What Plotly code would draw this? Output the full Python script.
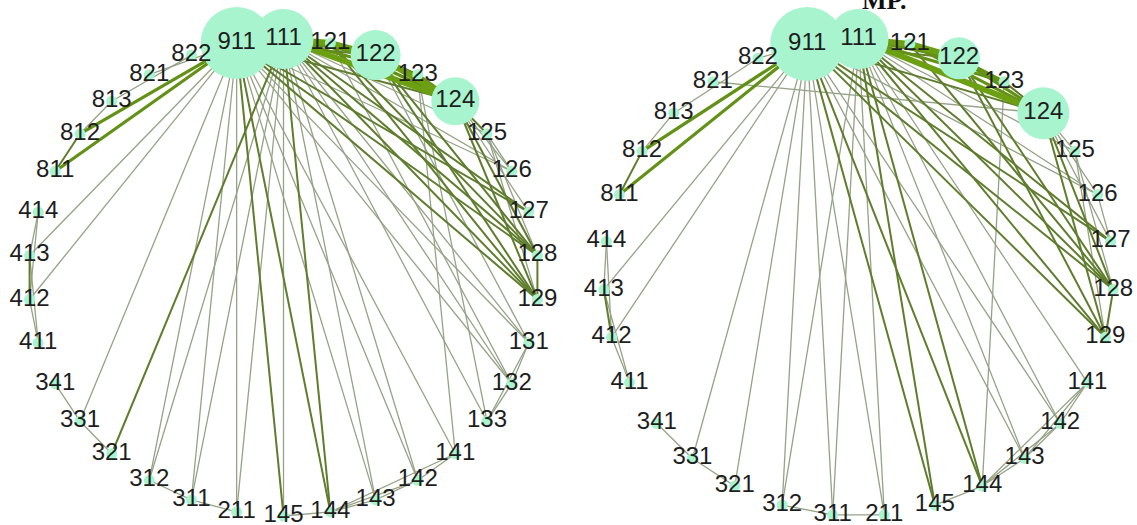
import math
import plotly.graph_objects as go

# ---- node order around each circle (clockwise, starting one step left of top) ----
left_nodes = ["911", "111", "121", "122", "123", "124", "125", "126", "127", "128",
              "129", "131", "132", "133", "141", "142", "143", "144", "145", "211",
              "311", "312", "321", "331", "341", "411", "412", "413", "414", "811",
              "812", "813", "821", "822"]
right_nodes = ["911", "111", "121", "122", "123", "124", "125", "126", "127", "128",
               "129", "141", "142", "143", "144", "145", "211", "311", "312", "321",
               "331", "341", "411", "412", "413", "414", "811", "812", "813", "821",
               "822"]

# ---- node sizes (marker diameter); all other nodes are small ----
left_big = {"911": 72, "111": 60, "122": 50, "124": 48}
right_big = {"911": 74, "111": 60, "122": 42, "124": 52}
small_size = 11

# ---- edges: (source, target, weight class 1..4) ----
left_edges = [
    # hub 911
    ("911", "811", 3), ("911", "812", 3), ("911", "821", 1), ("911", "413", 1),
    ("911", "412", 1), ("911", "331", 1), ("911", "312", 1), ("911", "311", 1),
    ("911", "211", 1), ("911", "145", 2), ("911", "144", 2), ("911", "143", 1),
    ("911", "142", 1), ("911", "141", 1), ("911", "131", 1), ("911", "129", 2),
    ("911", "128", 2), ("911", "127", 2), ("911", "126", 1), ("911", "124", 2),
    ("911", "122", 2), ("911", "111", 1), ("911", "132", 1),
    # hub 111
    ("111", "321", 2), ("111", "312", 1), ("111", "311", 1), ("111", "211", 1),
    ("111", "145", 1), ("111", "144", 2), ("111", "142", 1), ("111", "133", 1),
    ("111", "132", 1), ("111", "131", 1), ("111", "129", 2), ("111", "128", 2),
    ("111", "127", 2), ("111", "126", 1), ("111", "125", 1), ("111", "124", 4),
    ("111", "123", 3), ("111", "122", 3), ("111", "121", 4), ("111", "143", 1),
    # 12x cluster
    ("121", "122", 4), ("121", "124", 3), ("122", "124", 4), ("123", "124", 3),
    ("122", "123", 2), ("121", "128", 2), ("121", "129", 2), ("122", "128", 2),
    ("122", "129", 2), ("124", "125", 2), ("124", "126", 1), ("124", "127", 1),
    ("124", "128", 2), ("124", "129", 2), ("125", "128", 1), ("125", "129", 1),
    ("125", "126", 1), ("128", "129", 2), ("123", "133", 1), ("121", "132", 1),
    ("123", "141", 1), ("122", "131", 1),
    # local links along the ring
    ("811", "812", 2), ("812", "813", 1), ("813", "822", 1),
    ("411", "412", 1), ("411", "413", 1), ("412", "413", 2), ("412", "414", 1),
    ("413", "414", 1), ("341", "331", 1), ("331", "321", 1),
    ("312", "311", 1), ("311", "211", 1), ("145", "144", 1), ("144", "143", 1),
    ("144", "142", 1), ("144", "141", 1), ("143", "142", 1), ("142", "141", 1),
    ("131", "132", 1), ("132", "133", 1), ("131", "133", 1),
]

right_edges = [
    # hub 911
    ("911", "811", 3), ("911", "812", 3), ("911", "413", 1), ("911", "412", 1),
    ("911", "331", 1), ("911", "321", 1), ("911", "312", 1), ("911", "311", 1),
    ("911", "211", 1), ("911", "145", 2), ("911", "144", 2), ("911", "143", 1),
    ("911", "142", 1), ("911", "129", 2), ("911", "128", 2), ("911", "127", 2),
    ("911", "126", 1), ("911", "124", 2), ("911", "122", 2), ("911", "111", 1),
    ("911", "822", 1),
    # hub 111
    ("111", "312", 1), ("111", "311", 1), ("111", "211", 1), ("111", "145", 2),
    ("111", "144", 2), ("111", "143", 1), ("111", "142", 1), ("111", "141", 1),
    ("111", "129", 2), ("111", "128", 2), ("111", "127", 2), ("111", "126", 1),
    ("111", "125", 1), ("111", "124", 4), ("111", "123", 3), ("111", "122", 3),
    ("111", "121", 4),
    # 12x cluster
    ("121", "122", 4), ("122", "123", 3), ("122", "124", 3), ("121", "124", 3),
    ("123", "124", 2), ("124", "125", 1), ("124", "126", 1), ("124", "127", 1),
    ("124", "128", 2), ("124", "129", 2), ("122", "128", 2), ("122", "129", 2),
    ("121", "128", 2), ("125", "128", 1), ("125", "129", 1), ("128", "129", 2),
    ("126", "127", 1), ("821", "124", 1), ("123", "144", 1),
    # local links along the ring
    ("813", "822", 1), ("812", "813", 1), ("811", "812", 2),
    ("414", "413", 1), ("413", "412", 2), ("412", "411", 1), ("411", "413", 1),
    ("414", "412", 1), ("341", "331", 1), ("331", "321", 1),
    ("312", "311", 1), ("311", "211", 1), ("145", "144", 1), ("144", "143", 1),
    ("144", "142", 1), ("144", "141", 1), ("143", "142", 1), ("142", "141", 1),
    ("143", "141", 1),
]

# ---- styling ----
NODE_FILL = "#a8f4cf"
LABEL_COLOR = "#1e1e1e"
EDGE_STYLE = {
    1: dict(color="rgb(150,162,135)", width=1.3),
    2: dict(color="rgb(95,125,45)", width=2.0),
    3: dict(color="rgb(98,145,22)", width=3.2),
    4: dict(color="rgb(108,160,18)", width=6.0),
}


def ring_positions(nodes):
    n = len(nodes)
    step = 2 * math.pi / n
    pos = {}
    for i, name in enumerate(nodes):
        phi = (i - 1) * step
        pos[name] = (math.sin(phi), math.cos(phi))
    return pos


def add_network(fig, nodes, edges, big, xa, ya):
    pos = ring_positions(nodes)
    for w in (1, 2, 3, 4):
        xs, ys = [], []
        for a, b, k in edges:
            if k != w:
                continue
            xs += [pos[a][0], pos[b][0], None]
            ys += [pos[a][1], pos[b][1], None]
        if xs:
            fig.add_trace(go.Scatter(
                x=xs, y=ys, mode="lines", line=EDGE_STYLE[w],
                hoverinfo="skip", showlegend=False, xaxis=xa, yaxis=ya))
    fig.add_trace(go.Scatter(
        x=[pos[n][0] for n in nodes], y=[pos[n][1] for n in nodes],
        mode="markers+text", text=nodes, textposition="middle center",
        textfont=dict(family="Liberation Sans, Arial", size=24, color=LABEL_COLOR),
        marker=dict(size=[big.get(n, small_size) for n in nodes],
                    color=NODE_FILL, opacity=1, line=dict(width=0)),
        opacity=1, hoverinfo="text", showlegend=False, xaxis=xa, yaxis=ya))


fig = go.Figure()
add_network(fig, left_nodes, left_edges, left_big, "x", "y")
add_network(fig, right_nodes, right_edges, right_big, "x2", "y2")

W, H = 1137, 525
RX, RY = 255.0, 238.5
CY = 277.5
left_cx, right_cx = 283.5, 858.5
half = W / 2

yr = [-(H - CY) / RY, CY / RY]
axis_off = dict(visible=False, showgrid=False, zeroline=False, fixedrange=True)
fig.update_layout(
    width=W, height=H,
    margin=dict(l=0, r=0, t=0, b=0),
    paper_bgcolor="white", plot_bgcolor="white",
    xaxis=dict(domain=[0, 0.5], range=[-left_cx / RX, (half - left_cx) / RX], **axis_off),
    yaxis=dict(domain=[0, 1], range=yr, **axis_off),
    xaxis2=dict(domain=[0.5, 1], range=[(half - right_cx) / RX, (W - right_cx) / RX], **axis_off),
    yaxis2=dict(domain=[0, 1], range=yr, anchor="x2", **axis_off),
    annotations=[dict(
        text="<b>MP.</b>", x=884 / W, y=1 - 17 / H, xref="paper", yref="paper",
        xanchor="center", yanchor="bottom", showarrow=False,
        font=dict(family="Liberation Serif, Times New Roman", size=26, color="#111"))],
)

fig.write_html("out.html")
